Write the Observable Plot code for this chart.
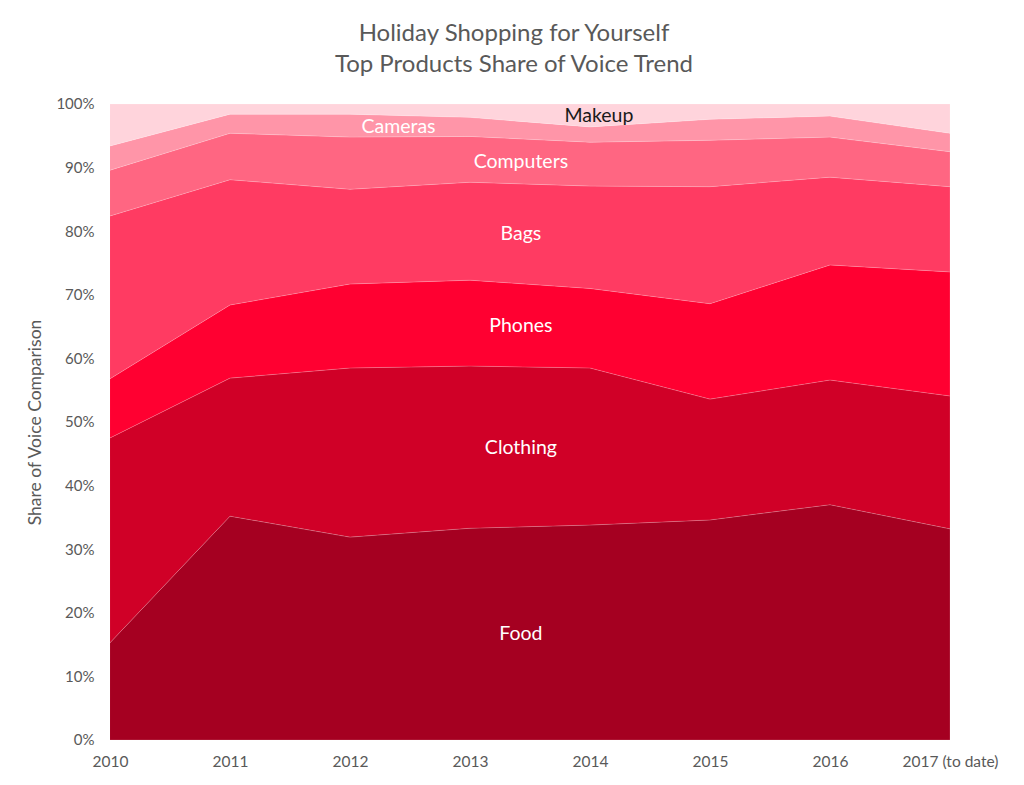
<!DOCTYPE html>
<html><head><meta charset="utf-8">
<script src="https://cdn.jsdelivr.net/npm/d3@7"></script>
<script src="https://cdn.jsdelivr.net/npm/@observablehq/plot@0.6"></script>
<style>
body{margin:0;background:#fff;font-family:Lato,"Open Sans",sans-serif;}
#title{height:90px;box-sizing:border-box;padding-top:16px;text-align:center;color:#595959;font-size:24px;line-height:31px;padding-left:4px;}
#chart g[aria-label="y-axis label"] text{font-size:17.5px !important;}
</style></head>
<body>
<div id="title">Holiday Shopping for Yourself<br>Top Products Share of Voice Trend</div>
<div id="chart"></div>
<script>
const years = [2010, 2011, 2012, 2013, 2014, 2015, 2016, 2017];
const yearLabels = ["2010", "2011", "2012", "2013", "2014", "2015", "2016", "2017 (to date)"];
const categories = ["Food", "Clothing", "Phones", "Bags", "Computers", "Cameras", "Makeup"];
const food      = [15.3, 35.2, 31.9, 33.3, 33.8, 34.6, 37.0, 33.2];
const clothing  = [32.2, 21.7, 26.6, 25.5, 24.7, 19.0, 19.6, 20.9];
const phones    = [9.3, 11.5, 13.2, 13.5, 12.5, 15.0, 18.1, 19.5];
const bags      = [25.6, 19.7, 14.9, 15.4, 16.1, 18.4, 13.8, 13.4];
const computers = [7.2, 7.3, 8.2, 7.2, 6.9, 7.3, 6.3, 5.5];
const cameras   = [3.8, 3.0, 3.6, 3.0, 2.4, 3.3, 3.3, 2.9];
const makeup    = [6.6, 1.6, 1.6, 2.1, 3.6, 2.4, 1.9, 4.6];
const colors = ["#a50021", "#d00027", "#ff0031", "#ff3b62", "#ff6682", "#ff95a8", "#ffd4dc"];
const labelYears = [2013.42, 2013.42, 2013.42, 2013.42, 2013.42, 2012.4, 2014.07];
const labelColors = ["white", "white", "white", "white", "white", "white", "#1a1a1a"];

const series = [food, clothing, phones, bags, computers, cameras, makeup];
const data = [];
categories.forEach((c, i) => years.forEach((y, j) => data.push({year: y, cat: c, value: series[i][j]})));

// label positions: middle of each layer at the label's year (interpolated from data)
function interp(arr, x) {
  const j = Math.min(Math.floor(x - years[0]), years.length - 2);
  const t = x - years[j];
  return arr[j] * (1 - t) + arr[j + 1] * t;
}
const labels = categories.map((c, i) => {
  const x = labelYears[i];
  let below = 0;
  for (let k = 0; k < i; k++) below += interp(series[k], x);
  return {cat: c, year: x, y: below + interp(series[i], x) / 2, color: labelColors[i]};
});

const chart = Plot.plot({
  width: 1024,
  height: 695,
  marginTop: 14,
  marginBottom: 45,
  marginLeft: 110,
  marginRight: 74,
  style: {fontFamily: "Lato, 'Open Sans', sans-serif", fontSize: "15px", color: "#595959", background: "white"},
  x: {domain: [2010, 2017]},
  y: {domain: [0, 100]},
  color: {domain: categories, range: colors},
  marks: [
    Plot.areaY(data, {x: "year", y: "value", fill: "cat", order: categories, stroke: "white", strokeOpacity: 0.2, strokeWidth: 0.8}),
    Plot.axisX({ticks: years, tickFormat: (d) => yearLabels[years.indexOf(d)], tickSize: 0, tickPadding: 15, label: null, fontSize: 15.5}),
    Plot.axisY({ticks: d3.range(0, 101, 10), tickFormat: (d) => d + "%", tickSize: 0, tickPadding: 16, label: "Share of Voice Comparison", labelAnchor: "center", labelArrow: "none", labelOffset: 82, fontSize: 15}),
    Plot.text(labels, {x: "year", y: "y", text: "cat", fill: "color", fontSize: 19.5})
  ]
});
document.getElementById("chart").appendChild(chart);
</script>
</body></html>
